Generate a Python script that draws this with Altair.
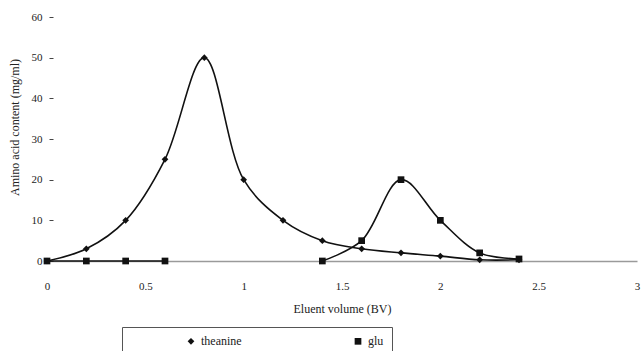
import altair as alt
import pandas as pd

# data
theanine_x = [0, 0.2, 0.4, 0.6, 0.8, 1.0, 1.2, 1.4, 1.6, 1.8, 2.0, 2.2, 2.4]
theanine_y = [0, 3, 10, 25, 50, 20, 10, 5, 3, 2, 1.2, 0.3, 0.3]
glu_x = [0, 0.2, 0.4, 0.6, 1.4, 1.6, 1.8, 2.0, 2.2, 2.4]
glu_y = [0, 0, 0, 0, 0, 5, 20, 10, 2, 0.5]
glu_seg = ["a", "a", "a", "a", "b", "b", "b", "b", "b", "b"]
series = ["theanine", "glu"]
x_ticks = [0, 0.5, 1, 1.5, 2, 2.5, 3]
y_ticks = [0, 10, 20, 30, 40, 50, 60]

rows = []
for x, y in zip(theanine_x, theanine_y):
    rows.append({"x": x, "y": y, "series": "theanine", "seg": "theanine"})
for x, y, s in zip(glu_x, glu_y, glu_seg):
    rows.append({"x": x, "y": y, "series": "glu", "seg": "glu" + s})
df = pd.DataFrame(rows)

FONT = "Liberation Serif"

xenc = alt.X("x:Q", scale=alt.Scale(domain=[0, 3], nice=False),
             axis=alt.Axis(values=x_ticks, format="~g", title="Eluent volume (BV)", grid=False,
                           ticks=False, domainColor="#9a9a9a", domainWidth=1.5,
                           labelPadding=19, titlePadding=12, labelFontSize=11,
                           titleFontSize=12, labelFont=FONT, titleFont=FONT,
                           labelColor="#222", titleColor="#222", titleFontWeight="normal",
                           labelFlush=False))
yenc = alt.Y("y:Q", scale=alt.Scale(domain=[0, 60], nice=False),
             axis=alt.Axis(values=y_ticks, title="Amino acid content (mg/ml)", grid=False,
                           domain=False, tickSize=4, tickColor="#444", offset=-6,
                           labelPadding=7, titlePadding=10, labelFontSize=11,
                           titleFontSize=12, labelFont=FONT, titleFont=FONT,
                           labelColor="#222", titleColor="#222", titleFontWeight="normal",
                           titleY=110))

lines = alt.Chart(df).mark_line(interpolate="catmull-rom", color="#111", strokeWidth=1.6).encode(
    x=xenc, y=yenc, detail="seg:N"
)

points = alt.Chart(df).mark_point(filled=True, opacity=1, color="#111", size=45).encode(
    x=xenc, y=yenc,
    shape=alt.Shape("series:N",
                    scale=alt.Scale(domain=series, range=["diamond", "square"]),
                    legend=alt.Legend(title=None, orient="none", legendX=75, legendY=310,
                                      direction="horizontal", columns=2, columnPadding=55,
                                      symbolOffset=55, padding=8, gridAlign="all",
                                      strokeColor="#555", fillColor="white",
                                      labelFont=FONT, labelFontSize=12, labelColor="#222",
                                      symbolFillColor="#111", symbolStrokeColor="#111",
                                      symbolSize=45)),
)

chart = alt.layer(lines, points).properties(
    width=590, height=244,
    autosize=alt.AutoSizeParams(type="none"),
    padding={"left": 47, "top": 17, "right": 7, "bottom": 90},
    background="white",
).configure(font=FONT).configure_view(stroke=None).configure_legend(
    labelFont=FONT, labelFontSize=12, labelColor="#222"
)

chart.save("out.html", embed_options={"renderer": "svg", "actions": False})
